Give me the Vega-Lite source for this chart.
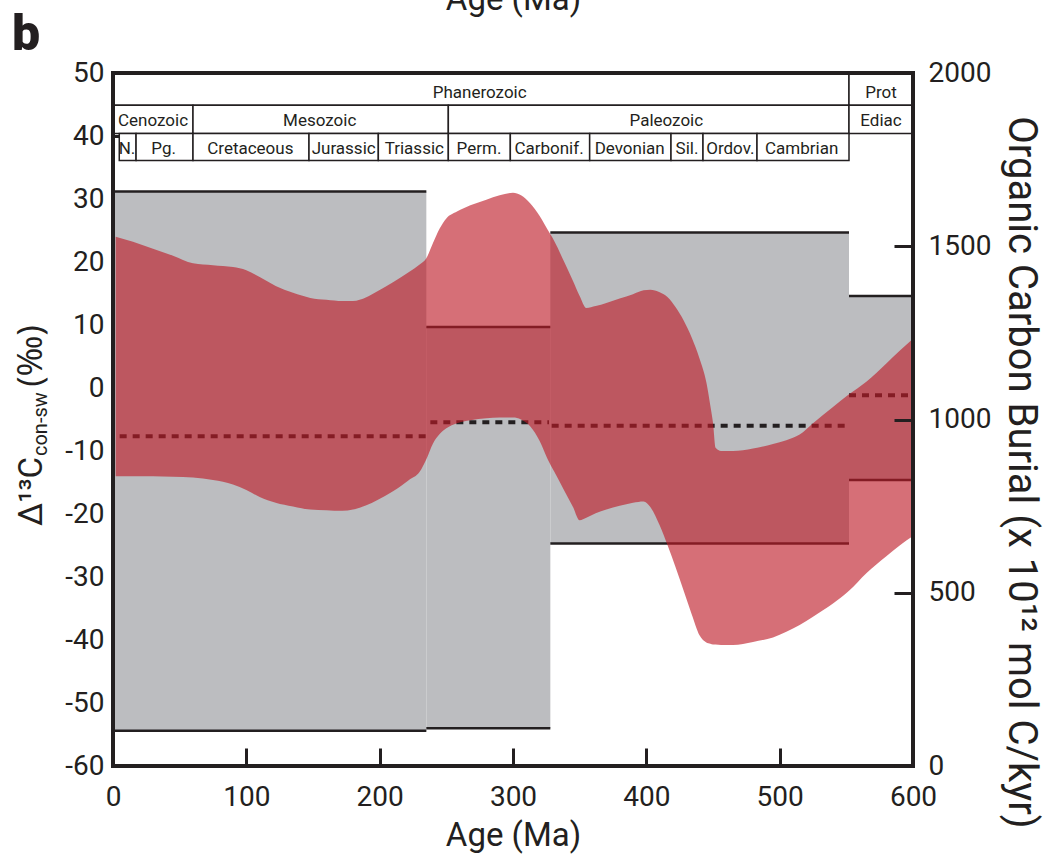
{
  "$schema": "https://vega.github.io/schema/vega-lite/v6.json",
  "width": 800,
  "height": 693,
  "autosize": {"type": "none"},
  "padding": {"left": 113, "top": 73, "right": 145, "bottom": 96},
  "background": "white",
  "config": {
    "view": {"stroke": null},
    "font": "Roboto",
    "axis": {
      "domain": false, "grid": false, "labelFlush": false,
      "labelFont": "Roboto", "labelFontSize": 28, "labelColor": "#231F20",
      "tickColor": "#231F20", "tickWidth": 3,
      "titleFont": "Roboto", "titleColor": "#231F20", "titleFontWeight": "normal"
    }
  },
  "title": {"text": "b", "anchor": "start", "frame": "group", "font": "Roboto", "fontSize": 50, "fontWeight": 900, "color": "#231F20", "dx": -101, "baseline": "alphabetic", "dy": 121},
  "datasets": {
    "grayBand": [
      {"start": 0, "end": 235, "lo": -54.4, "hi": 31.2},
      {"start": 235, "end": 328, "lo": -54.0, "hi": 9.7},
      {"start": 328, "end": 552, "lo": -24.7, "hi": 24.7},
      {"start": 552, "end": 600, "lo": -14.6, "hi": 14.6}
    ],
    "burialMean": [
      {"start": 5, "end": 236, "burial": 952},
      {"start": 238, "end": 327, "burial": 992},
      {"start": 329, "end": 551, "burial": 982},
      {"start": 552, "end": 600, "burial": 1070}
    ],
    "redBand": [
      {"age": 2, "lo": -14.0, "hi": 24.0},
      {"age": 15, "lo": -14.0, "hi": 23.2},
      {"age": 30, "lo": -14.0, "hi": 22.1},
      {"age": 45, "lo": -14.1, "hi": 21.0},
      {"age": 60, "lo": -14.2, "hi": 19.8},
      {"age": 75, "lo": -14.6, "hi": 19.5},
      {"age": 90, "lo": -15.3, "hi": 19.2},
      {"age": 100, "lo": -16.2, "hi": 18.7},
      {"age": 110, "lo": -17.3, "hi": 17.6},
      {"age": 122, "lo": -18.2, "hi": 16.2},
      {"age": 135, "lo": -18.8, "hi": 15.1},
      {"age": 148, "lo": -19.3, "hi": 14.3},
      {"age": 160, "lo": -19.4, "hi": 14.0},
      {"age": 172, "lo": -19.5, "hi": 13.8},
      {"age": 180, "lo": -19.3, "hi": 13.8},
      {"age": 190, "lo": -18.6, "hi": 14.4},
      {"age": 198, "lo": -17.8, "hi": 15.3},
      {"age": 210, "lo": -16.4, "hi": 16.8},
      {"age": 222, "lo": -14.6, "hi": 18.4},
      {"age": 230, "lo": -13.3, "hi": 19.6},
      {"age": 235, "lo": -11.3, "hi": 20.6},
      {"age": 240, "lo": -8.8, "hi": 23.0},
      {"age": 245, "lo": -7.3, "hi": 25.3},
      {"age": 250, "lo": -6.4, "hi": 26.9},
      {"age": 258, "lo": -5.6, "hi": 28.0},
      {"age": 268, "lo": -5.1, "hi": 29.0},
      {"age": 280, "lo": -4.8, "hi": 29.9},
      {"age": 290, "lo": -4.7, "hi": 30.6},
      {"age": 300, "lo": -4.7, "hi": 31.0},
      {"age": 306, "lo": -5.0, "hi": 30.6},
      {"age": 313, "lo": -6.1, "hi": 29.3},
      {"age": 320, "lo": -8.4, "hi": 27.3},
      {"age": 326, "lo": -11.3, "hi": 25.1},
      {"age": 331, "lo": -13.3, "hi": 23.3},
      {"age": 338, "lo": -16.1, "hi": 20.2},
      {"age": 345, "lo": -18.9, "hi": 17.0},
      {"age": 350, "lo": -21.0, "hi": 14.6},
      {"age": 355, "lo": -20.6, "hi": 12.7},
      {"age": 362, "lo": -19.9, "hi": 13.0},
      {"age": 370, "lo": -19.3, "hi": 13.5},
      {"age": 380, "lo": -18.7, "hi": 14.2},
      {"age": 390, "lo": -18.2, "hi": 14.9},
      {"age": 398, "lo": -18.0, "hi": 15.5},
      {"age": 403, "lo": -18.9, "hi": 15.6},
      {"age": 410, "lo": -21.8, "hi": 15.2},
      {"age": 416, "lo": -25.0, "hi": 14.4},
      {"age": 422, "lo": -28.5, "hi": 12.8},
      {"age": 428, "lo": -32.2, "hi": 10.7},
      {"age": 434, "lo": -35.9, "hi": 8.0},
      {"age": 440, "lo": -39.3, "hi": 4.6},
      {"age": 445, "lo": -40.4, "hi": 0.9},
      {"age": 448, "lo": -40.6, "hi": -2.8},
      {"age": 450, "lo": -40.7, "hi": -5.5},
      {"age": 452, "lo": -40.7, "hi": -9.5},
      {"age": 456, "lo": -40.8, "hi": -10.0},
      {"age": 465, "lo": -40.8, "hi": -10.0},
      {"age": 480, "lo": -40.3, "hi": -9.6},
      {"age": 495, "lo": -39.6, "hi": -8.9},
      {"age": 505, "lo": -38.7, "hi": -8.3},
      {"age": 515, "lo": -37.6, "hi": -7.4},
      {"age": 525, "lo": -36.3, "hi": -5.6},
      {"age": 540, "lo": -34.2, "hi": -3.0},
      {"age": 552, "lo": -32.2, "hi": -1.0},
      {"age": 565, "lo": -29.4, "hi": 1.0},
      {"age": 580, "lo": -26.7, "hi": 3.9},
      {"age": 590, "lo": -25.0, "hi": 5.9},
      {"age": 600, "lo": -23.5, "hi": 7.8}
    ],
    "geoTable": [
      {"label": "Phanerozoic", "start": 0, "end": 552, "mid": 275, "lo": 44.9, "hi": 50},
      {"label": "Prot", "start": 552, "end": 600, "mid": 576, "lo": 44.9, "hi": 50},
      {"label": "Cenozoic", "start": 0, "end": 60, "mid": 30, "lo": 40.4, "hi": 44.9},
      {"label": "Mesozoic", "start": 60, "end": 251.5, "mid": 155, "lo": 40.4, "hi": 44.9},
      {"label": "Paleozoic", "start": 251.5, "end": 552, "mid": 415, "lo": 40.4, "hi": 44.9},
      {"label": "Ediac", "start": 552, "end": 600, "mid": 576, "lo": 40.4, "hi": 44.9},
      {"label": "N.", "start": 4.7, "end": 17.3, "mid": 10.5, "lo": 36.1, "hi": 40.4},
      {"label": "Pg.", "start": 17.3, "end": 60, "mid": 38, "lo": 36.1, "hi": 40.4},
      {"label": "Cretaceous", "start": 60, "end": 147, "mid": 103, "lo": 36.1, "hi": 40.4},
      {"label": "Jurassic", "start": 147, "end": 199, "mid": 173, "lo": 36.1, "hi": 40.4},
      {"label": "Triassic", "start": 199, "end": 251.5, "mid": 226, "lo": 36.1, "hi": 40.4},
      {"label": "Perm.", "start": 251.5, "end": 298, "mid": 274.5, "lo": 36.1, "hi": 40.4},
      {"label": "Carbonif.", "start": 298, "end": 357.5, "mid": 327, "lo": 36.1, "hi": 40.4},
      {"label": "Devonian", "start": 357.5, "end": 418.5, "mid": 387.5, "lo": 36.1, "hi": 40.4},
      {"label": "Sil.", "start": 418.5, "end": 442.5, "mid": 430.5, "lo": 36.1, "hi": 40.4},
      {"label": "Ordov.", "start": 442.5, "end": 483, "mid": 463, "lo": 36.1, "hi": 40.4},
      {"label": "Cambrian", "start": 483, "end": 552, "mid": 516.5, "lo": 36.1, "hi": 40.4}
    ]
  },
  "layer": [
    {
      "data": {"name": "grayBand"},
      "layer": [
        {
          "mark": {"type": "rect", "color": "#BCBDC0", "stroke": null},
          "encoding": {
            "x": {"field": "start", "type": "quantitative", "scale": {"domain": [0, 600]}, "axis": null},
            "x2": {"field": "end"},
            "y": {"field": "lo", "type": "quantitative", "scale": {"domain": [-60, 50]}, "axis": null},
            "y2": {"field": "hi"}
          }
        },
        {
          "mark": {"type": "rule", "color": "#231F20", "strokeWidth": 2.5},
          "encoding": {
            "x": {"field": "start", "type": "quantitative", "scale": {"domain": [0, 600]}, "axis": null},
            "x2": {"field": "end"},
            "y": {"field": "hi", "type": "quantitative", "scale": {"domain": [-60, 50]}, "axis": null}
          }
        },
        {
          "mark": {"type": "rule", "color": "#231F20", "strokeWidth": 2.5},
          "encoding": {
            "x": {"field": "start", "type": "quantitative", "scale": {"domain": [0, 600]}, "axis": null},
            "x2": {"field": "end"},
            "y": {"field": "lo", "type": "quantitative", "scale": {"domain": [-60, 50]}, "axis": null}
          }
        }
      ]
    },
    {
      "data": {"name": "burialMean"},
      "mark": {"type": "rule", "color": "#231F20", "strokeWidth": 4, "strokeDash": [7, 6]},
      "encoding": {
        "x": {"field": "start", "type": "quantitative", "scale": {"domain": [0, 600]},
          "axis": {"orient": "top", "labels": false, "ticks": false, "title": "Age (Ma)", "titleFontSize": 33, "titleY": -64, "titleBaseline": "alphabetic"}},
        "x2": {"field": "end"},
        "y": {"field": "burial", "type": "quantitative", "scale": {"domain": [0, 2000]},
          "axis": {"orient": "right", "values": [0, 500, 1000, 1500, 2000], "format": "d", "tickSize": -19, "labelPadding": 34, "labelAlign": "left", "zindex": 1,
            "title": "Organic Carbon Burial (x 10¹² mol C/kyr)", "titleFontSize": 40, "titleAngle": 90, "titleX": 107, "titleY": 399, "titleAlign": "center", "titleBaseline": "middle"}}
      }
    },
    {
      "layer": [
        {
          "data": {"name": "redBand"},
          "mark": {"type": "area", "color": "#BE1B28", "opacity": 0.63, "interpolate": "monotone"},
          "encoding": {
            "x": {"field": "age", "type": "quantitative", "scale": {"domain": [0, 600]},
              "axis": {"orient": "bottom", "values": [0, 100, 200, 300, 400, 500, 600], "tickSize": -18, "labelPadding": 35, "title": "Age (Ma)", "titleFontSize": 33, "titleY": 79, "titleBaseline": "alphabetic"}},
            "y": {"field": "lo", "type": "quantitative", "scale": {"domain": [-60, 50]},
              "axis": {"orient": "left", "values": [-60, -50, -40, -30, -20, -10, 0, 10, 20, 30, 40, 50], "labelExpr": "replace(datum.label, '−', '-')", "tickSize": -22, "labelPadding": 31, "title": null}},
            "y2": {"field": "hi"}
          }
        },
        {
          "data": {"name": "geoTable"},
          "mark": {"type": "rect", "fill": "white", "stroke": "#231F20", "strokeWidth": 1.5},
          "encoding": {
            "x": {"field": "start", "type": "quantitative", "scale": {"domain": [0, 600]}},
            "x2": {"field": "end"},
            "y": {"field": "lo", "type": "quantitative", "scale": {"domain": [-60, 50]}},
            "y2": {"field": "hi"}
          }
        },
        {
          "data": {"name": "geoTable"},
          "mark": {"type": "text", "font": "Roboto", "fontSize": 17, "color": "#231F20", "baseline": "alphabetic", "align": "center", "dy": -7},
          "encoding": {
            "x": {"field": "mid", "type": "quantitative", "scale": {"domain": [0, 600]}},
            "y": {"field": "lo", "type": "quantitative", "scale": {"domain": [-60, 50]}},
            "text": {"field": "label"}
          }
        },
        {
          "data": {"values": [{}]},
          "mark": {"type": "text", "text": "Δ¹³C", "angle": 270, "align": "left", "baseline": "alphabetic", "font": "Roboto", "fontSize": 33, "color": "#231F20"},
          "encoding": {
            "x": {"datum": -53.25, "type": "quantitative", "scale": {"domain": [0, 600]}},
            "y": {"datum": -21.9, "type": "quantitative", "scale": {"domain": [-60, 50]}}
          }
        },
        {
          "data": {"values": [{}]},
          "mark": {"type": "text", "text": "con-sw", "angle": 270, "align": "left", "baseline": "alphabetic", "font": "Roboto", "fontSize": 20, "color": "#231F20", "dy": 5},
          "encoding": {
            "x": {"datum": -53.25, "type": "quantitative", "scale": {"domain": [0, 600]}},
            "y": {"datum": -10.8, "type": "quantitative", "scale": {"domain": [-60, 50]}}
          }
        },
        {
          "data": {"values": [{}]},
          "mark": {"type": "text", "text": "(‰)", "angle": 270, "align": "left", "baseline": "alphabetic", "font": "Open Sans", "fontSize": 35, "color": "#231F20"},
          "encoding": {
            "x": {"datum": -53.25, "type": "quantitative", "scale": {"domain": [0, 600]}},
            "y": {"datum": 0.2, "type": "quantitative", "scale": {"domain": [-60, 50]}}
          }
        },
        {
          "data": {"values": [{}]},
          "mark": {"type": "rect", "filled": false, "stroke": "#231F20", "strokeWidth": 4},
          "encoding": {
            "x": {"datum": 0, "type": "quantitative", "scale": {"domain": [0, 600]}},
            "x2": {"datum": 600},
            "y": {"datum": -60, "type": "quantitative", "scale": {"domain": [-60, 50]}},
            "y2": {"datum": 50}
          }
        }
      ]
    }
  ],
  "resolve": {"scale": {"y": "independent"}, "axis": {"x": "independent", "y": "independent"}}
}
